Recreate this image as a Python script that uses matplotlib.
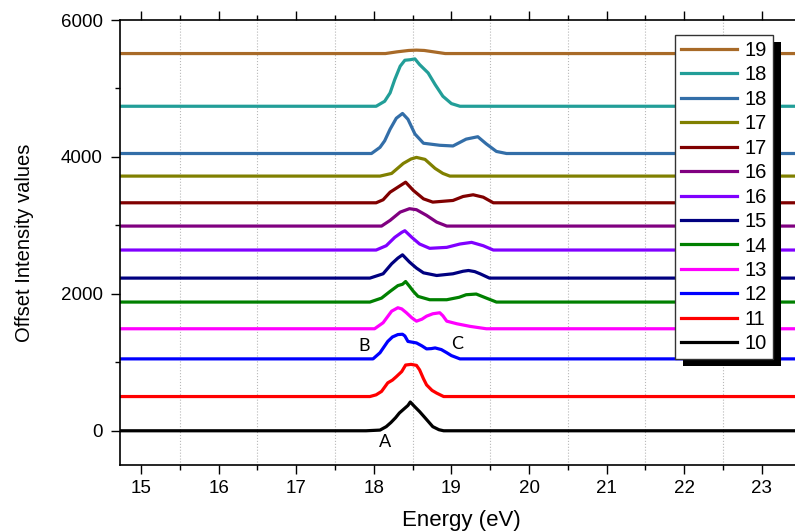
import matplotlib
matplotlib.use("Agg")
import matplotlib.pyplot as plt
from matplotlib.patches import Rectangle
from matplotlib.ticker import MultipleLocator

plt.rcParams['font.family'] = ['Liberation Sans', 'DejaVu Sans']

# spectra (energy in eV, intensity before offset)
e10 = [14.5, 17.90, 18.08, 18.16, 18.22, 18.28, 18.33, 18.40, 18.44, 18.47, 18.52, 18.59, 18.66, 18.76, 18.84, 18.90, 24.0]
i10 = [0, 0, 10, 60, 120, 190, 260, 330, 370, 420, 360, 280, 190, 60, 15, 0, 0]
e11 = [14.5, 17.95, 18.03, 18.10, 18.18, 18.24, 18.29, 18.36, 18.41, 18.48, 18.55, 18.59, 18.64, 18.68, 18.75, 18.81, 18.90, 24.0]
i11 = [0, 0, 25, 75, 200, 240, 290, 365, 460, 470, 455, 390, 260, 170, 90, 50, 0, 0]
e12 = [14.5, 17.99, 18.08, 18.18, 18.24, 18.31, 18.37, 18.40, 18.44, 18.55, 18.62, 18.68, 18.74, 18.79, 18.87, 18.94, 19.00, 19.11, 24.0]
i12 = [0, 0, 90, 255, 320, 355, 360, 335, 255, 233, 190, 146, 150, 160, 136, 90, 48, 0, 0]
e13 = [14.5, 18.01, 18.12, 18.23, 18.31, 18.36, 18.42, 18.49, 18.55, 18.62, 18.68, 18.76, 18.85, 18.89, 18.94, 19.07, 19.24, 19.45, 24.0]
i13 = [0, 0, 88, 257, 307, 290, 234, 160, 111, 140, 184, 219, 234, 190, 111, 73, 35, 0, 0]
e14 = [14.5, 17.95, 18.10, 18.21, 18.31, 18.37, 18.41, 18.46, 18.51, 18.57, 18.72, 18.94, 19.10, 19.19, 19.32, 19.45, 19.58, 24.0]
i14 = [0, 0, 58, 156, 240, 260, 300, 230, 156, 83, 34, 34, 70, 107, 117, 58, 0, 0]
e15 = [14.5, 17.95, 18.12, 18.23, 18.31, 18.37, 18.46, 18.55, 18.64, 18.81, 19.02, 19.15, 19.22, 19.30, 19.37, 19.49, 24.0]
i15 = [0, 0, 63, 209, 292, 340, 234, 146, 77, 38, 63, 100, 111, 95, 63, 0, 0]
e16a = [14.5, 18.03, 18.16, 18.27, 18.36, 18.40, 18.49, 18.59, 18.72, 18.94, 19.11, 19.26, 19.41, 19.54, 24.0]
i16a = [0, 0, 63, 185, 258, 282, 185, 88, 25, 39, 88, 112, 63, 0, 0]
e16b = [14.5, 18.10, 18.21, 18.34, 18.46, 18.55, 18.68, 18.81, 18.94, 24.0]
i16b = [0, 0, 83, 204, 254, 239, 156, 58, 0, 0]
e17a = [14.5, 18.03, 18.12, 18.21, 18.31, 18.41, 18.51, 18.64, 18.76, 19.02, 19.15, 19.28, 19.41, 19.54, 24.0]
i17a = [0, 0, 44, 155, 228, 301, 180, 58, 10, 34, 92, 117, 82, 0, 0]
e17b = [14.5, 18.08, 18.23, 18.38, 18.48, 18.55, 18.66, 18.79, 18.89, 18.98, 24.0]
i17b = [0, 0, 39, 185, 250, 273, 244, 112, 39, 0, 0]
e18a = [14.5, 17.97, 18.08, 18.14, 18.21, 18.29, 18.37, 18.44, 18.53, 18.64, 18.85, 19.02, 19.19, 19.34, 19.45, 19.58, 19.71, 24.0]
i18a = [0, 0, 90, 185, 355, 515, 585, 500, 285, 150, 120, 110, 210, 245, 140, 30, 0, 0]
e18b = [14.5, 18.03, 18.14, 18.21, 18.27, 18.34, 18.40, 18.47, 18.53, 18.59, 18.70, 18.79, 18.89, 19.00, 19.11, 24.0]
i18b = [0, 0, 73, 195, 390, 585, 672, 680, 692, 609, 487, 317, 146, 39, 0, 0]
e19 = [14.5, 18.15, 18.30, 18.45, 18.55, 18.65, 18.80, 18.92, 24.0]
i19 = [0, 0, 25, 45, 50, 45, 20, 0, 0]

energies = [e10, e11, e12, e13, e14, e15, e16a, e16b, e17a, e17b, e18a, e18b, e19]
intensities = [i10, i11, i12, i13, i14, i15, i16a, i16b, i17a, i17b, i18a, i18b, i19]
offsets = [0, 500, 1050, 1490, 1880, 2230, 2640, 2990, 3330, 3720, 4050, 4740, 5510]
labels = ['10', '11', '12', '13', '14', '15', '16', '16', '17', '17', '18', '18', '19']
colors = ['#000000', '#ff0000', '#0000ff', '#ff00ff', '#008000', '#000080', '#8000ff',
          '#800080', '#800000', '#808000', '#336ea8', '#229e98', '#a86a28']

fig = plt.figure(figsize=(7.95, 5.31), dpi=100)
ax = fig.add_axes([120 / 795, 1 - 465 / 531, 683 / 795, 445 / 531])

lines = []
for e, inten, off, lab, col in zip(energies, intensities, offsets, labels, colors):
    y = [v + off for v in inten]
    ln, = ax.plot(e, y, color=col, lw=2.3, label=lab, solid_joinstyle='round')
    lines.append(ln)

ax.set_xlim(14.73, 23.53)
ax.set_ylim(-500, 6000)
ax.xaxis.set_major_locator(MultipleLocator(1))
ax.xaxis.set_minor_locator(MultipleLocator(0.5))
ax.yaxis.set_major_locator(MultipleLocator(2000))
ax.yaxis.set_minor_locator(MultipleLocator(1000))
ax.grid(True, which='minor', axis='x', color='#b8b8b8', linestyle=':', lw=0.8)
ax.tick_params(axis='x', which='both', direction='out', top=True, labelsize=13.5, pad=4)
ax.tick_params(axis='y', which='both', direction='out', right=False, labelsize=13.5, pad=6)
ax.tick_params(which='major', length=6.5, width=1)
ax.tick_params(which='minor', length=3.5, width=1)
for s in ax.spines.values():
    s.set_linewidth(1.2)

ax.set_xlabel('Energy (eV)', fontsize=16, labelpad=10)
ax.set_ylabel('Offset Intensity values', fontsize=14.5, labelpad=19)

ax.text(18.14, -160, 'A', fontsize=13, family=['Lato', 'DejaVu Sans'], ha='center', va='center')
ax.text(17.88, 1245, 'B', fontsize=13, family=['Lato', 'DejaVu Sans'], ha='center', va='center')
ax.text(19.08, 1270, 'C', fontsize=13, family=['Lato', 'DejaVu Sans'], ha='center', va='center')

leg = ax.legend(lines[::-1], labels[::-1], loc='upper left',
                bbox_to_anchor=(675 / 795, 1 - 35 / 531), bbox_transform=fig.transFigure,
                borderaxespad=0, fontsize=14.5, labelspacing=0.27, handlelength=2.8,
                handletextpad=0.35, borderpad=0.3, fancybox=False, framealpha=1,
                edgecolor='#333333')
leg.get_frame().set_linewidth(1.0)
leg.set_zorder(6)

# black drop shadow behind the legend
fig.canvas.draw()
bb = leg.get_window_extent().transformed(ax.transAxes.inverted())
dx = 8 / ax.bbox.width
dy = 7 / ax.bbox.height
shadow = Rectangle((bb.x0 + dx, bb.y0 - dy), bb.width, bb.height, transform=ax.transAxes,
                   facecolor='black', edgecolor='none', clip_on=False, zorder=5.5)
ax.add_patch(shadow)

fig.savefig('out.png', dpi=100)
